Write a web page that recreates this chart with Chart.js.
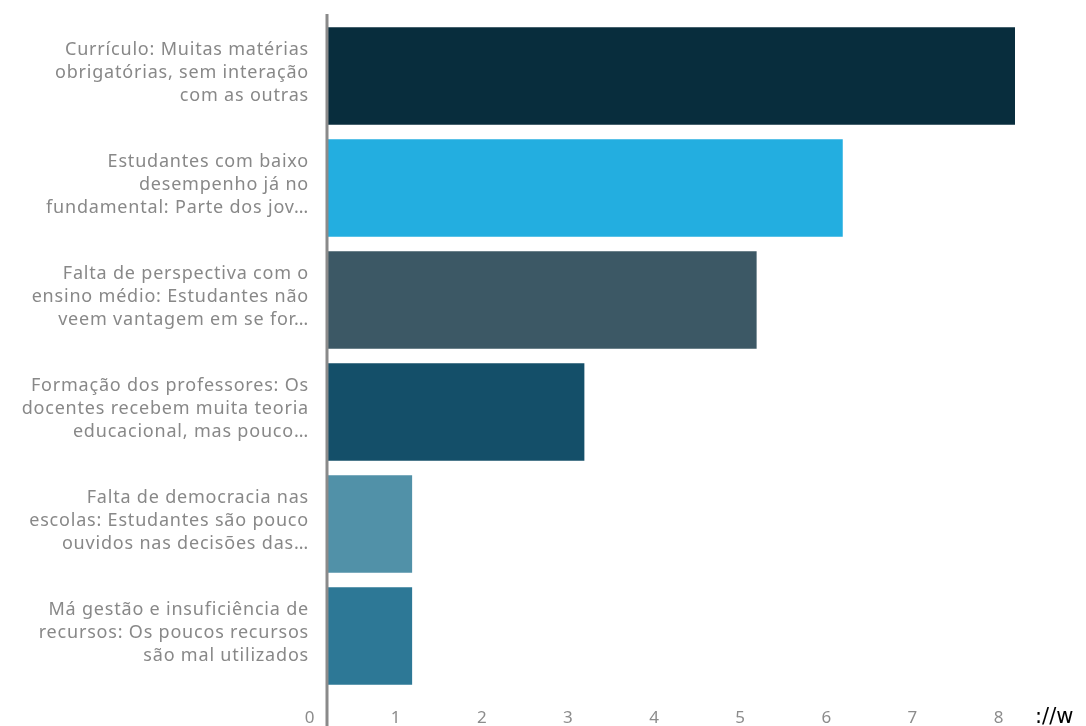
<!DOCTYPE html>
<html>
<head>
<meta charset="utf-8">
<script src="https://cdn.jsdelivr.net/npm/chart.js@4.4.0/dist/chart.umd.min.js"></script>
<style>
  html, body { margin: 0; padding: 0; background: #fff; }
  #wrap { position: relative; width: 1086px; height: 726px; overflow: hidden; }
  #url { position: absolute; left: 1035px; top: 704px; font: 21px "DejaVu Sans", sans-serif; color: #000; white-space: nowrap; }
</style>
</head>
<body>
<div id="wrap">
  <canvas id="chart" width="1086" height="726"></canvas>
  <span id="url">://w</span>
</div>
<script>
// categories (already wrapped the way the original shows them)
var categories = [
  ["Currículo: Muitas matérias", "obrigatórias, sem interação", "com as outras"],
  ["Estudantes com baixo", "desempenho já no", "fundamental: Parte dos jov…"],
  ["Falta de perspectiva com o", "ensino médio: Estudantes não", "veem vantagem em se for…"],
  ["Formação dos professores: Os", "docentes recebem muita teoria", "educacional, mas pouco…"],
  ["Falta de democracia nas", "escolas: Estudantes são pouco", "ouvidos nas decisões das…"],
  ["Má gestão e insuficiência de", "recursos: Os poucos recursos", "são mal utilizados"]
];
var votes = [8, 6, 5, 3, 1, 1];
var barColors = ['#082d3d', '#23aee0', '#3c5865', '#144f69', '#5191a8', '#2d7896'];
var xTicks = [0, 1, 2, 3, 4, 5, 6, 7, 8];

var fontFamily = "'Noto Sans', 'DejaVu Sans', sans-serif";

// the original font is set wider, so loosen the letters a little
var spacing = {
  id: 'spacing',
  beforeDraw: function(chart) { chart.ctx.letterSpacing = '0.8px'; }
};

// gray zero line that runs past the chart area like in the original
var zeroLine = {
  id: 'zeroLine',
  afterDraw: function(chart) {
    var ctx = chart.ctx;
    var x = chart.scales.x.getPixelForValue(0);
    ctx.save();
    ctx.strokeStyle = '#8a8a8a';
    ctx.lineWidth = 3;
    ctx.beginPath();
    ctx.moveTo(x, 14);
    ctx.lineTo(x, chart.height);
    ctx.stroke();
    ctx.restore();
  }
};

new Chart(document.getElementById('chart'), {
  type: 'bar',
  data: {
    labels: categories,
    datasets: [{
      data: votes,
      backgroundColor: barColors,
      borderColor: 'rgba(255,255,255,0.35)',
      borderWidth: 1,
      categoryPercentage: 0.89,
      barPercentage: 1
    }]
  },
  options: {
    indexAxis: 'y',
    responsive: false,
    animation: false,
    layout: { padding: { top: 20, right: 70, bottom: 0, left: 0 } },
    plugins: { legend: { display: false }, tooltip: { enabled: false } },
    scales: {
      x: {
        min: 0,
        max: 8,
        afterBuildTicks: function(scale) {
          scale.ticks = xTicks.map(function(v) { return { value: v }; });
        },
        afterFit: function(scale) {
          scale.height = 34;
          scale.paddingLeft = 0;
          scale.paddingRight = 0;
        },
        grid: { display: false, drawTicks: false },
        border: { display: false },
        ticks: {
          color: '#8c8c8c',
          font: { family: fontFamily, size: 17 },
          padding: 16,
          labelOffset: -17
        }
      },
      y: {
        grid: { display: false, drawTicks: false },
        border: { display: false },
        afterFit: function(scale) {
          scale.width = 327;
          scale.paddingTop = 0;
          scale.paddingBottom = 0;
        },
        ticks: {
          color: '#888888',
          font: { family: fontFamily, size: 18, lineHeight: 1.28 },
          padding: 18,
          labelOffset: -3
        }
      }
    }
  },
  plugins: [spacing, zeroLine]
});
</script>
</body>
</html>
